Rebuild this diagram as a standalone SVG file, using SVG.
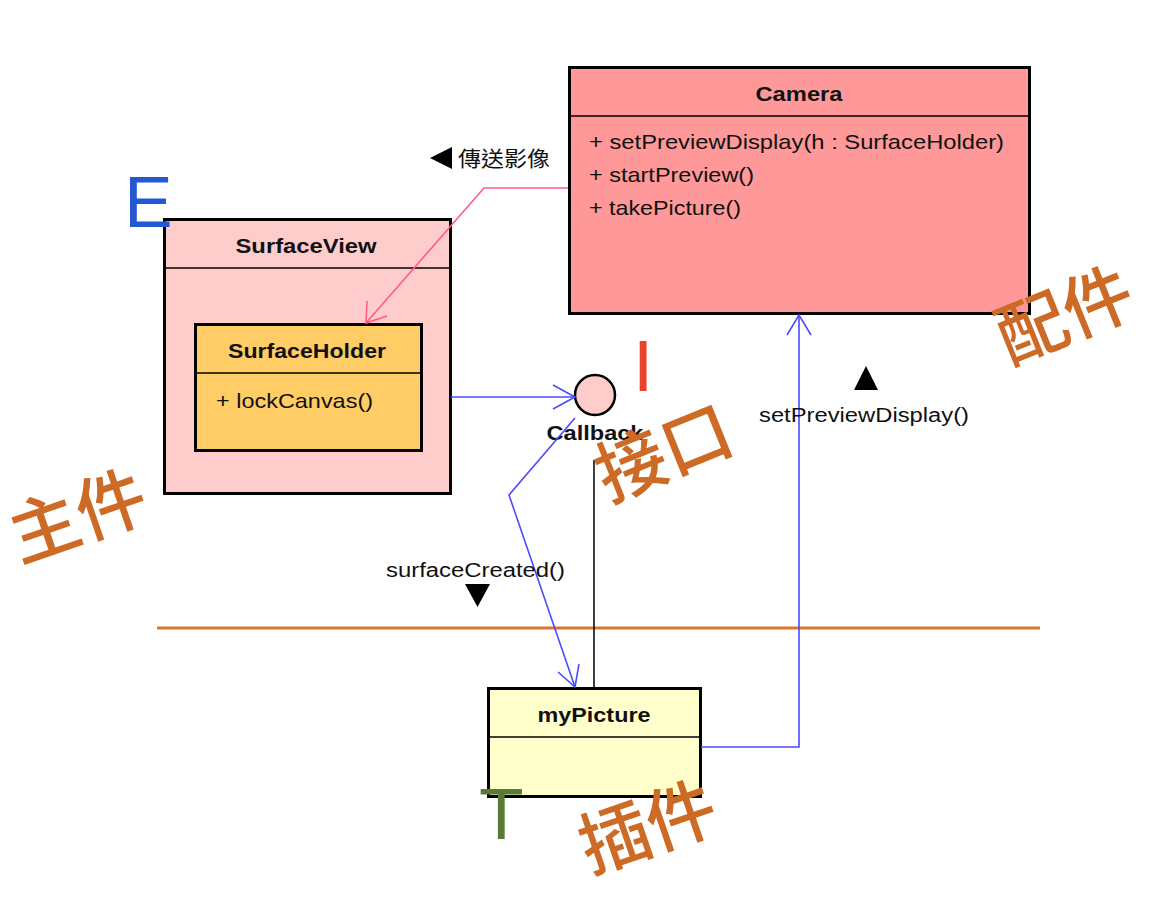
<svg xmlns="http://www.w3.org/2000/svg" width="1174" height="906" viewBox="0 0 1174 906">
<defs>
<style>
.cls{stroke:#000;stroke-width:3}
.div{stroke:#000;stroke-width:1.5}
.t{font-family:"Liberation Sans",Arial,sans-serif;font-size:21px;fill:#111}
.b{font-weight:bold}
.lbl{font-family:"Liberation Sans",Arial,sans-serif;font-size:20px;fill:#111}
.ann{font-family:"Noto Sans CJK TC","Noto Sans CJK SC",sans-serif;font-size:70px;font-weight:500;fill:#CD6A26}
.let{font-family:"Liberation Sans",Arial,sans-serif;font-size:73px}
.blue{stroke:#4A4AFF;stroke-width:1.6;fill:none}
.pink{stroke:#FF5C8A;stroke-width:1.6;fill:none}
</style>
</defs>
<rect width="1174" height="906" fill="#fff"/>

<g id="divider-line">
<line x1="157" y1="628" x2="1040" y2="628" stroke="#D4792F" stroke-width="3"/>
</g>

<g id="SurfaceView">
<rect x="164.5" y="219.5" width="286" height="274" fill="#FFCCCC" class="cls"/>
<line x1="164" y1="268" x2="451" y2="268" class="div"/>
<text x="306" y="253" text-anchor="middle" class="t b" textLength="141" lengthAdjust="spacingAndGlyphs">SurfaceView</text>
</g>

<g id="SurfaceHolder">
<rect x="195.5" y="324.5" width="226" height="126" fill="#FFCC66" class="cls"/>
<line x1="195" y1="373" x2="422" y2="373" class="div"/>
<text x="307" y="358" text-anchor="middle" class="t b" textLength="158" lengthAdjust="spacingAndGlyphs">SurfaceHolder</text>
<text x="216" y="408" class="t" textLength="157" lengthAdjust="spacingAndGlyphs">+ lockCanvas()</text>
</g>

<g id="Camera">
<rect x="569.5" y="67.5" width="460" height="246" fill="#FF9999" class="cls"/>
<line x1="569" y1="116" x2="1031" y2="116" class="div"/>
<text x="799" y="101" text-anchor="middle" class="t b" textLength="87" lengthAdjust="spacingAndGlyphs">Camera</text>
<text x="589" y="149" class="t" textLength="415" lengthAdjust="spacingAndGlyphs">+ setPreviewDisplay(h : SurfaceHolder)</text>
<text x="589" y="182" class="t" textLength="165" lengthAdjust="spacingAndGlyphs">+ startPreview()</text>
<text x="589" y="215" class="t" textLength="152" lengthAdjust="spacingAndGlyphs">+ takePicture()</text>
</g>

<g id="Callback">
<circle cx="595" cy="395" r="20" fill="#FFCCCC" stroke="#000" stroke-width="2.5"/>
<text x="595" y="440" text-anchor="middle" class="t b" textLength="97" lengthAdjust="spacingAndGlyphs">Callback</text>
</g>

<g id="myPicture">
<rect x="488.5" y="688.5" width="212" height="108" fill="#FFFFCC" class="cls"/>
<line x1="488" y1="737" x2="701" y2="737" class="div"/>
<text x="594" y="722" text-anchor="middle" class="t b" textLength="113" lengthAdjust="spacingAndGlyphs">myPicture</text>
</g>

<g id="connectors">
<polyline class="pink" points="568,188 484,188 366,323"/>
<polyline class="pink" points="367,301 366,323 387,316"/>
<line class="blue" x1="451" y1="397" x2="575" y2="397"/>
<polyline class="blue" points="553,385 575,397 553,409"/>
<polyline class="blue" points="575,418 509,495 575,687"/>
<polyline class="blue" points="558,672 575,687 579,664"/>
<line x1="594" y1="460" x2="594" y2="687" stroke="#000" stroke-width="1.5"/>
<polyline class="blue" points="701,747 799,747 799,315"/>
<polyline class="blue" points="787,335 799,315 811,335"/>
</g>

<g id="labels">
<polygon points="430,158 452,147 452,169" fill="#000"/>
<text x="458" y="166" font-family="'Noto Sans CJK TC','Noto Sans CJK SC',sans-serif" font-size="21" fill="#111" textLength="92" lengthAdjust="spacingAndGlyphs">傳送影像</text>
<text x="386" y="577" class="lbl" textLength="179" lengthAdjust="spacingAndGlyphs">surfaceCreated()</text>
<polygon points="465,584 490,584 477.5,607" fill="#000"/>
<text x="759" y="422" class="lbl" textLength="210" lengthAdjust="spacingAndGlyphs">setPreviewDisplay()</text>
<polygon points="866,366 878,390 854,390" fill="#000"/>
</g>

<g id="annotations">
<text x="124" y="227" class="let" fill="#2458D0">E</text>
<text x="633" y="391" class="let" fill="#E8432B">I</text>
<text x="479" y="839" class="let" fill="#587A35">T</text>
<text class="ann" text-anchor="middle" dominant-baseline="central" transform="translate(76,511) rotate(-19)">主件</text>
<text class="ann" text-anchor="middle" dominant-baseline="central" transform="translate(662,448) rotate(-22)">接口</text>
<text class="ann" text-anchor="middle" dominant-baseline="central" transform="translate(1063,310) rotate(-22)">配件</text>
<text class="ann" text-anchor="middle" dominant-baseline="central" transform="translate(646,822) rotate(-19)">插件</text>
</g>
</svg>
